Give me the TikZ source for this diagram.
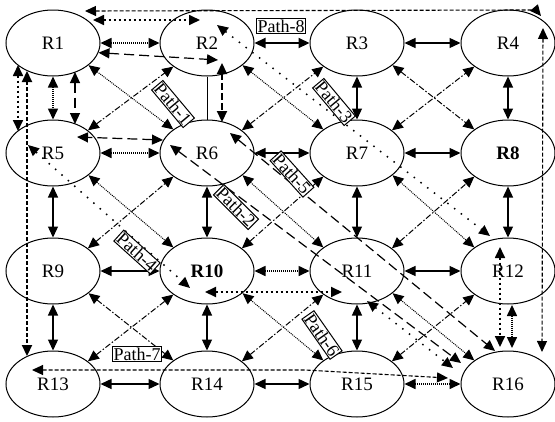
\documentclass[tikz,border=0pt]{standalone}
\usepackage{fontspec}
\setmainfont{Liberation Serif}
\usetikzlibrary{arrows.meta,calc,shapes.geometric}

\begin{document}
\begin{tikzpicture}[x=1pt,y=-1pt,
  router/.style={draw,ellipse,line width=1pt,minimum width=94pt,minimum height=66pt,inner sep=0pt,font=\fontsize{19}{21}\selectfont},
  tag/.style={draw,line width=1pt,fill=white,inner sep=1pt,font=\fontsize{18}{19}\selectfont},
  both/.style={{Triangle[length=11pt,width=10pt]}-{Triangle[length=11pt,width=10pt]}},
  solidlink/.style={both,line width=1.4pt},
  densedot/.style={both,line width=1.6pt,dash pattern=on 1pt off 1pt},
  squaredot/.style={both,line width=2pt,dash pattern=on 2.5pt off 2.5pt},
  finedot/.style={both,line width=1pt,dash pattern=on 1pt off 1pt},
  dashdot/.style={both,line width=1pt,dash pattern=on 6pt off 2pt on 1.5pt off 2pt},
  longdash/.style={both,line width=1.2pt,dash pattern=on 10pt off 5pt},
  loosedot/.style={both,line width=1.5pt,dash pattern=on 1.5pt off 7pt},
  shortdash/.style={both,line width=1.1pt,dash pattern=on 4pt off 2pt}]
\useasboundingbox (0,0) rectangle (555,421);

% Routers
\node[router] (R1) at (53,43) {R1};
\node[router] (R2) at (207,43) {R2};
\node[router] (R3) at (357,43) {R3};
\node[router] (R4) at (508,43) {R4};
\node[router] (R5) at (53,153) {R5};
\node[router] (R6) at (207,153) {R6};
\node[router] (R7) at (357,153) {R7};
\node[router] (R8) at (508,153) {\textbf{R8}};
\node[router] (R9) at (53,271) {R9};
\node[router] (R10) at (207,271) {\textbf{R10}};
\node[router] (R11) at (357,271) {R11};
\node[router] (R12) at (508,271) {R12};
\node[router] (R13) at (53,384) {R13};
\node[router] (R14) at (207,384) {R14};
\node[router] (R15) at (357,384) {R15};
\node[router] (R16) at (508,384) {R16};

% Horizontal links
\draw[densedot] (R1.east) -- (R2.west);
\draw[solidlink,line width=2.2pt] (R2.east) -- (R3.west);
\draw[solidlink] (R3.east) -- (R4.west);
\draw[densedot] (R5.east) -- (R6.west);
\draw[solidlink] (R6.east) -- (R7.west);
\draw[solidlink] (R7.east) -- (R8.west);
\draw[solidlink] (R9.east) -- (R10.west);
\draw[densedot] (R10.east) -- (R11.west);
\draw[solidlink] (R11.east) -- (R12.west);
\draw[solidlink] (R13.east) -- (R14.west);
\draw[solidlink] (R14.east) -- (R15.west);
\draw[densedot] (R15.east) -- (R16.west);

% Vertical links
\draw[densedot] (R1.south) -- (R5.north);
\draw[line width=1pt] (R2.south) -- (R6.north);
\draw[solidlink] (R3.south) -- (R7.north);
\draw[solidlink] (R4.south) -- (R8.north);
\draw[solidlink] (R5.south) -- (R9.north);
\draw[solidlink] (R6.south) -- (R10.north);
\draw[solidlink] (R7.south) -- (R11.north);
\draw[solidlink] (R8.south) -- (R12.north);
\draw[solidlink] (R9.south) -- (R13.north);
\draw[solidlink] (R10.south) -- (R14.north);
\draw[solidlink] (R11.south) -- (R15.north);

% Diagonal links
\draw[finedot] (R1.-32) -- (R6.145);
\draw[finedot] (R2.-32) -- (R7.145);
\draw[dashdot] (R3.-32) -- (R8.145);
\draw[finedot] (R5.-32) -- (R10.145);
\draw[finedot] (R6.-32) -- (R11.145);
\draw[finedot] (R7.-32) -- (R12.145);
\draw[dashdot] (R9.-32) -- (R14.145);
\draw[finedot] (R10.-32) -- (R15.145);
\draw[finedot] (R11.-32) -- (R16.145);
\draw[dashdot] (R5.33) -- (R2.215);
\draw[dashdot] (R6.33) -- (R3.215);
\draw[dashdot] (R7.33) -- (R4.215);
\draw[dashdot] (R9.33) -- (R6.215);
\draw[dashdot] (R10.33) -- (R7.215);
\draw[dashdot] (R11.33) -- (R8.215);
\draw[dashdot] (R13.33) -- (R10.215);
\draw[dashdot] (R14.33) -- (R11.215);
\draw[dashdot] (R15.33) -- (R12.215);

% Paths
\draw[longdash] (R1.-12) -- ($(R2)+(11,17)$);
\draw[longdash,line width=2.2pt,dash pattern=on 7pt off 3pt] ($(R2)+(15,20)$) -- ($(R6)+(15,-31)$);
\draw[longdash] ($(R6)+(-44,-13)$) -- ($(R5)+(24,-16)$);
\draw[longdash] ($(R1)+(22,29)$) -- ($(R5)+(22,-29)$);
\draw[longdash] ($(R6)+(-37,-8)$) -- ($(R16)+(-47,-21)$);
\draw[longdash] ($(R6)+(23,-20)$) -- ($(R16)+(-13,-33)$);
\draw[loosedot] ($(R2)+(10,-18)$) -- ($(R12)+(-18,-35)$);
\draw[loosedot] ($(R5)+(-25,-8)$) -- ($(R10)+(-17,17)$);
\draw[squaredot] ($(R10)+(-2,21)$) -- ($(R11)+(-15,21)$);
\draw[loosedot] ($(R11)+(10,30)$) -- ($(R16)+(-55,-16)$);
\draw[shortdash] ($(R13)+(-21,-14)$) -- ($(R15)+(-52,-14)$) -- ($(R16)+(-60,-6)$);

% Outer links
\draw[shortdash] ($(R1)+(32,-32)$) -- (526,10) .. controls (536,10) .. ($(R4)+(33,-27)$);
\draw[squaredot,line width=1.7pt] ($(R1)+(40,-23)$) -- ($(R2)+(-7,-23)$);
\draw[shortdash] ($(R4)+(35,-15)$) -- ($(R16)+(34,-32)$);
\draw[squaredot,line width=1.7pt] ($(R1)+(-35,22)$) -- ($(R5)+(-35,-22)$);
\draw[shortdash,line width=2.2pt] ($(R1)+(-26,28)$) -- ($(R13)+(-26,-28)$);
\draw[squaredot,line width=1.7pt] ($(R12)+(-8,-24)$) -- ($(R16)+(-8,-37)$);
\draw[densedot] ($(R12)+(4,34)$) -- ($(R16)+(4,-36)$);

% Path labels
\node[tag] (P8) at (281,26) {Path-8};
\node[tag,rotate=-50] (P1) at (173,104) {Path-1};
\node[tag,rotate=-50] (P3) at (334,102) {Path-3};
\node[tag,rotate=-48] (P5) at (292,174) {Path-5};
\node[tag,rotate=-45] (P2) at (236,207) {Path-2};
\node[tag,rotate=-42] (P4) at (137,252) {Path-4};
\node[tag,rotate=-55] (P6) at (322,335) {Path-6};
\node[tag] (P7) at (137,354) {Path-7};
\end{tikzpicture}
\end{document}
